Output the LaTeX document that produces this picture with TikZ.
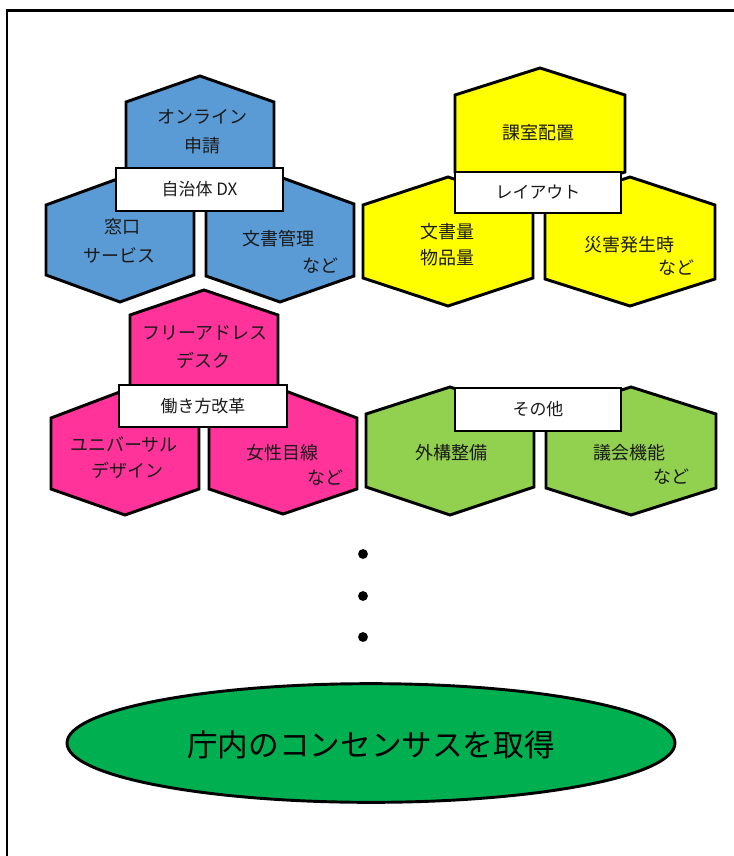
\documentclass[tikz,border=0pt]{standalone}
\usepackage{fontspec}
\newfontfamily\jp{Noto Sans CJK JP}
\usetikzlibrary{shapes.geometric}
\definecolor{hexblue}{HTML}{5B9BD5}
\definecolor{hexyellow}{HTML}{FFFF00}
\definecolor{hexpink}{HTML}{FF3399}
\definecolor{hexgreen}{HTML}{92D050}
\definecolor{ovalgreen}{HTML}{00B050}
\definecolor{txt}{HTML}{1A1A1A}
\tikzset{
  hexline/.style={draw=black, line width=2.2pt, line join=miter},
  hextext/.style={font=\jp\fontsize{13.5}{16}\selectfont, text=txt, inner sep=0pt},
  labelbox/.style={draw=black, fill=white, line width=2.2pt, inner sep=0pt,
    font=\jp\fontsize{12.7}{15}\selectfont, text=txt},
  oval/.style={ellipse, draw=black, fill=ovalgreen, line width=2.2pt, inner sep=0pt,
    minimum width=456pt, minimum height=89pt},
  ovaltext/.style={font=\jp\fontsize{23}{26}\selectfont, text=black, inner sep=0pt},
  frameline/.style={draw=black, line width=2.2pt},
}
% cx, half width, top apex y, upper corner y, lower corner y, bottom apex y, colour
\newcommand{\hexa}[7]{%
  \draw[hexline, fill=#7] (#1,#3) -- (#1+#2,#4) -- (#1+#2,#5) -- (#1,#6)
    -- (#1-#2,#5) -- (#1-#2,#4) -- cycle;}
\begin{document}
\begin{tikzpicture}[x=0.75pt, y=-0.75pt]
\useasboundingbox (0,0) rectangle (734,856);
\fill[white] (0,0) rectangle (734,856);
% frame (cropped by the page on the right and at the bottom)
\coordinate (fbl) at (7,856);
\coordinate (ftl) at (7,10.5);
\coordinate (ftr) at (734,10.5);
\draw[frameline] (fbl) -- (ftl) -- (ftr);

% ---------- blue group ----------
\hexa{120}{74}{178}{205}{275}{302}{hexblue}
\hexa{280}{74}{177}{204}{276}{302}{hexblue}
\hexa{200}{74}{76}{102}{172}{198}{hexblue}
\node[labelbox, minimum width=125.25pt, minimum height=32.25pt] (dx) at (199.5,189.5) {自治体 DX};
\node[hextext] (b1a) at (202,117) {オンライン};
\node[hextext] (b1b) at (202,146) {申請};
\node[hextext] (b2a) at (122,227) {窓口};
\node[hextext] (b2b) at (119,255) {サービス};
\node[hextext] (b3a) at (278,239) {文書管理};
\node[hextext] (b3b) at (320,266) {など};

% ---------- yellow group ----------
\hexa{448}{85}{177}{205}{278}{306}{hexyellow}
\hexa{630}{85}{177}{205}{279}{306}{hexyellow}
\hexa{540}{85}{68}{95}{172}{199}{hexyellow}
\node[labelbox, minimum width=124.5pt, minimum height=30.75pt] (lay) at (538,192.5) {レイアウト};
\node[hextext] (y1) at (538,133) {課室配置};
\node[hextext] (y2a) at (447,232) {文書量};
\node[hextext] (y2b) at (447,258) {物品量};
\node[hextext] (y3a) at (629,245) {災害発生時};
\node[hextext] (y3b) at (676,268) {など};

% ---------- pink group ----------
\hexa{125}{74}{390}{418}{489}{515}{hexpink}
\hexa{283}{74}{390}{418}{489}{514}{hexpink}
\hexa{204}{74}{290}{315}{385}{411}{hexpink}
\node[labelbox, minimum width=126pt, minimum height=31.5pt] (work) at (203,406) {働き方改革};
\node[hextext] (p1a) at (205,333) {フリーアドレス};
\node[hextext] (p1b) at (203,360) {デスク};
\node[hextext] (p2a) at (124,445) {ユニバーサル};
\node[hextext] (p2b) at (127,470) {デザイン};
\node[hextext] (p3a) at (282,453) {女性目線};
\node[hextext] (p3b) at (325,478) {など};

% ---------- green group ----------
\hexa{450}{84}{387}{414}{487}{515}{hexgreen}
\hexa{631}{85}{387}{414}{488}{515}{hexgreen}
\node[labelbox, minimum width=124.5pt, minimum height=32.25pt] (etc) at (538,409.5) {その他};
\node[hextext] (g1) at (451,453) {外構整備};
\node[hextext] (g2a) at (629,453) {議会機能};
\node[hextext] (g2b) at (671,477) {など};

% ---------- dots ----------
\fill[black] (363,554) circle[radius=3.7pt];
\fill[black] (363,596) circle[radius=3.7pt];
\fill[black] (363,637) circle[radius=3.7pt];

% ---------- consensus ----------
\node[oval] (goal) at (371,743) {};
\node[ovaltext] (goaltext) at (371,745) {庁内のコンセンサスを取得};
\end{tikzpicture}
\end{document}
